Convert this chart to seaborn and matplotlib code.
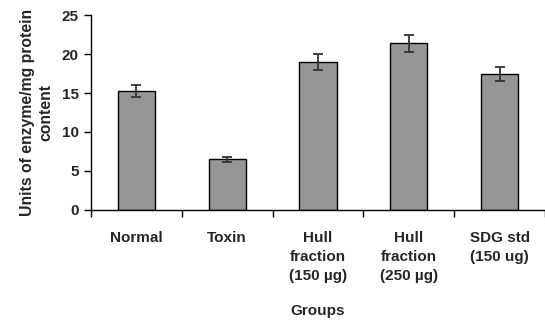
import matplotlib
matplotlib.use('Agg')
import matplotlib.pyplot as plt
import pandas as pd
import seaborn as sns
import numpy as np

groups = ['Normal', 'Toxin', 'Hull\nfraction\n(150 µg)', 'Hull\nfraction\n(250 µg)', 'SDG std\n(150 ug)']
values = [15.3, 6.5, 19.0, 21.4, 17.45]
errors = [0.75, 0.35, 1.0, 1.1, 0.85]

sns.set_style('ticks')
plt.rcParams['font.family'] = ['Liberation Sans', 'DejaVu Sans']
plt.rcParams['font.weight'] = 'bold'

df = pd.DataFrame({'group': groups, 'value': values})

fig = plt.figure(figsize=(5.45, 3.21), dpi=100)
ax = fig.add_axes([0.167, 0.346, 0.833, 0.607])

sns.barplot(data=df, x='group', y='value', color='#969696', saturation=1,
            width=0.41, edgecolor='black', linewidth=1, errorbar=None, ax=ax)
ax.errorbar(np.arange(len(values)), values, yerr=errors, fmt='none',
            ecolor='#333333', elinewidth=1.3, capsize=3.5, capthick=1.3)

ax.set_xlim(-0.5, 4.5)
ax.set_ylim(0, 25)
ax.set_yticks(range(0, 26, 5))
ax.set_xticks(np.arange(-0.5, 4.6, 1.0), minor=True)
ax.tick_params(axis='x', which='major', length=0, pad=15, labelsize=11)
ax.tick_params(axis='x', which='minor', length=5, width=1, color='black')
ax.tick_params(axis='y', length=5, width=1, color='black', labelsize=11, pad=4)
for lbl in ax.get_xticklabels():
    lbl.set_fontweight('bold')
    lbl.set_linespacing(1.45)
for lbl in ax.get_yticklabels():
    lbl.set_fontweight('bold')

sns.despine(ax=ax)
for s in ['left', 'bottom']:
    ax.spines[s].set_color('black')
    ax.spines[s].set_linewidth(1)

ax.set_xlabel('Groups', fontsize=11, fontweight='bold', labelpad=15.5)
ax.set_ylabel('Units of enzyme/mg protein\ncontent', fontsize=11.3,
              fontweight='bold', labelpad=6, linespacing=1.3)

fig.savefig('out.png', dpi=100)
